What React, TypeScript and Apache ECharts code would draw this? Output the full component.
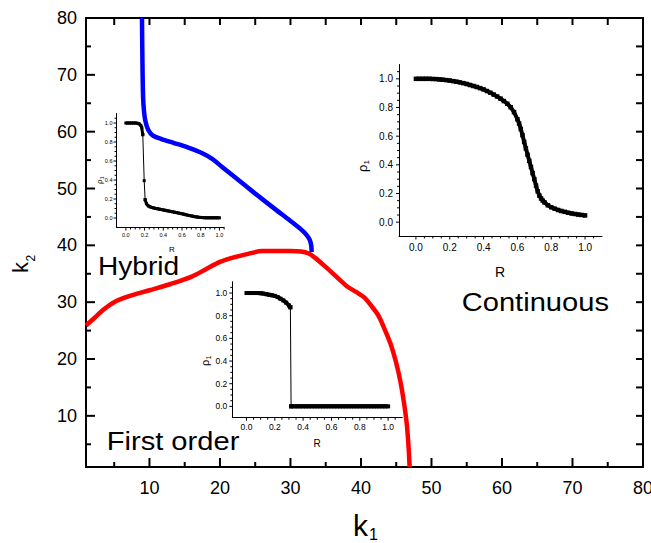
import React, { useEffect, useRef } from "react";
import * as echarts from "echarts";

// ---- main phase diagram ----
const blueK1 = [8.94, 8.98, 9.03, 9.1, 9.2, 9.4, 9.8, 10.5, 11.7, 13.5, 15.5, 17.5, 18.9, 20.3, 22, 25, 28, 30, 31.5, 32.3, 32.75, 32.95, 33.0];
const blueK2 = [80, 75, 70, 66, 64, 62, 60.4, 59.3, 58.7, 58.0, 57.2, 56.2, 55.2, 53.8, 52.1, 49.1, 46.2, 44.3, 42.8, 41.8, 40.9, 39.9, 38.8];

const redK1 = [1, 2, 3.5, 5, 7, 10, 13, 16, 18, 20, 22, 24, 26, 28, 30, 31.5, 32.5, 33.5, 35, 36.5, 38, 39.3, 40.5, 41.5, 42.5, 43.5, 44.3, 45, 45.6, 46.1, 46.5, 46.75, 46.9];
const redK2 = [25.9, 27.0, 28.7, 30.0, 31.0, 32.1, 33.2, 34.5, 35.8, 37.1, 37.9, 38.5, 39.0, 39.0, 39.0, 38.9, 38.6, 37.8, 36.2, 34.5, 32.8, 31.8, 30.8, 29.3, 27.6, 24.8, 22.3, 19.3, 16.0, 12.3, 8.5, 4.5, 1.0];

const kMin = 1;
const kMax = 80;
const mainLabels = [10, 20, 30, 40, 50, 60, 70, 80];
const mainTicks = [5, 10, 15, 20, 25, 30, 35, 40, 45, 50, 55, 60, 65, 70, 75, 80];

// ---- inset: hybrid ----
const hybridR = [0, 0.02, 0.04, 0.06, 0.08, 0.1, 0.12, 0.14, 0.16, 0.17, 0.181, 0.196, 0.206, 0.22, 0.24, 0.26, 0.28, 0.3, 0.32, 0.34, 0.36, 0.38, 0.4, 0.42, 0.44, 0.46, 0.48, 0.5, 0.52, 0.54, 0.56, 0.58, 0.6, 0.62, 0.64, 0.66, 0.68, 0.7, 0.72, 0.74, 0.76, 0.78, 0.8, 0.82, 0.84, 0.86, 0.88, 0.9, 0.92, 0.94, 0.96, 0.98, 1.0];
const hybridRho = [1.0, 1.0, 1.0, 1.0, 1.0, 1.0, 0.998, 0.992, 0.975, 0.95, 0.877, 0.393, 0.193, 0.15, 0.127, 0.117, 0.11, 0.105, 0.1, 0.097, 0.093, 0.089, 0.085, 0.081, 0.077, 0.073, 0.069, 0.065, 0.061, 0.057, 0.053, 0.049, 0.045, 0.04, 0.035, 0.03, 0.026, 0.022, 0.018, 0.014, 0.011, 0.008, 0.006, 0.004, 0.003, 0.002, 0.002, 0.002, 0.002, 0.002, 0.002, 0.002, 0.002];
const hybridJump = [10, 12];

// ---- inset: continuous ----
const contR = [0, 0.02, 0.04, 0.06, 0.08, 0.1, 0.12, 0.14, 0.16, 0.18, 0.2, 0.22, 0.24, 0.26, 0.28, 0.3, 0.32, 0.34, 0.36, 0.38, 0.4, 0.42, 0.44, 0.46, 0.48, 0.5, 0.52, 0.54, 0.56, 0.58, 0.6, 0.61, 0.62, 0.63, 0.64, 0.65, 0.66, 0.67, 0.68, 0.69, 0.7, 0.71, 0.72, 0.73, 0.74, 0.75, 0.76, 0.78, 0.8, 0.82, 0.84, 0.86, 0.88, 0.9, 0.92, 0.94, 0.96, 0.98, 1.0];
const contRho = [1.0, 1.0, 1.0, 1.0, 1.0, 0.999, 0.998, 0.996, 0.994, 0.991, 0.988, 0.984, 0.98, 0.975, 0.97, 0.964, 0.957, 0.95, 0.943, 0.935, 0.926, 0.915, 0.903, 0.89, 0.877, 0.862, 0.845, 0.826, 0.802, 0.768, 0.718, 0.688, 0.65, 0.607, 0.56, 0.515, 0.47, 0.428, 0.385, 0.342, 0.3, 0.255, 0.215, 0.185, 0.165, 0.15, 0.138, 0.118, 0.104, 0.094, 0.085, 0.078, 0.072, 0.066, 0.061, 0.057, 0.053, 0.05, 0.047];

// ---- inset: first order ----
const firstR = [0, 0.02, 0.04, 0.06, 0.08, 0.1, 0.12, 0.14, 0.16, 0.18, 0.2, 0.22, 0.24, 0.26, 0.28, 0.3, 0.31, 0.315, 0.34, 0.36, 0.38, 0.4, 0.42, 0.44, 0.46, 0.48, 0.5, 0.52, 0.54, 0.56, 0.58, 0.6, 0.62, 0.64, 0.66, 0.68, 0.7, 0.72, 0.74, 0.76, 0.78, 0.8, 0.82, 0.84, 0.86, 0.88, 0.9, 0.92, 0.94, 0.96, 0.98, 1.0];
const firstRho = [1.0, 1.0, 1.0, 1.0, 1.0, 0.998, 0.995, 0.99, 0.985, 0.98, 0.975, 0.965, 0.95, 0.935, 0.915, 0.89, 0.874, 0, 0, 0, 0, 0, 0, 0, 0, 0, 0, 0, 0, 0, 0, 0, 0, 0, 0, 0, 0, 0, 0, 0, 0, 0, 0, 0, 0, 0, 0, 0, 0, 0, 0, 0];
const firstJump = [16, 17];

const insetLabels = [0, 0.2, 0.4, 0.6, 0.8, 1.0];
const insetTicks = [0, 0.05, 0.1, 0.15, 0.2, 0.25, 0.3, 0.35, 0.4, 0.45, 0.5, 0.55, 0.6, 0.65, 0.7, 0.75, 0.8, 0.85, 0.9, 0.95, 1.0, 1.05];

const FONT = "'Liberation Sans', Arial, Helvetica, sans-serif";

const zip = (a: number[], b: number[]) => a.map((v, i) => [v, b[i]]);

function insetAxis(gridIndex: number, max: number, fontSize: number, margin: number) {
  return {
    type: "value",
    gridIndex,
    min: -0.1,
    max,
    axisLine: { show: true, onZero: false, lineStyle: { color: "#000", width: 1 } },
    axisTick: { show: false },
    axisLabel: {
      customValues: insetLabels,
      formatter: (v: number) => v.toFixed(1),
      fontSize,
      color: "#000",
      margin,
      fontFamily: FONT,
    },
    splitLine: { show: false },
  };
}

function curve(ax: number, pts: number[][], size: number, width: number) {
  return {
    type: "line",
    xAxisIndex: ax,
    yAxisIndex: ax,
    data: pts,
    symbol: "rect",
    symbolSize: size,
    showSymbol: true,
    itemStyle: { color: "#000" },
    lineStyle: { color: "#000", width },
    z: 5,
  };
}

function insetSeries(ax: number, r: number[], rho: number[], size: number, width: number, jump?: number[]) {
  const pts = zip(r, rho);
  if (!jump) return [curve(ax, pts, size, width)];
  return [
    curve(ax, pts.slice(0, jump[0] + 1), size, width),
    curve(ax, pts.slice(jump[0], jump[1] + 1), size, 1),
    curve(ax, pts.slice(jump[1]), size, width),
  ];
}

// outward tick marks of an inset, placed through the inset's own axes
function insetTickSeries(ax: number, xMax: number) {
  return {
    type: "custom",
    coordinateSystem: "cartesian2d",
    xAxisIndex: ax,
    yAxisIndex: ax,
    silent: true,
    clip: false,
    z: 4,
    data: insetTicks.map((v) => [v, v]),
    renderItem: (_p: any, api: any) => {
      const v = api.value(0);
      const major = Math.abs(v * 5 - Math.round(v * 5)) < 1e-6;
      const len = major ? 3 : 2;
      const children: any[] = [];
      if (v <= xMax + 1e-9) {
        const b = api.coord([v, -0.1]);
        children.push({ type: "line", shape: { x1: b[0], y1: b[1], x2: b[0], y2: b[1] + len }, style: { stroke: "#000", lineWidth: 1 } });
      }
      const l = api.coord([-0.1, v]);
      children.push({ type: "line", shape: { x1: l[0], y1: l[1], x2: l[0] - len, y2: l[1] }, style: { stroke: "#000", lineWidth: 1 } });
      return { type: "group", children };
    },
  };
}

function label(text: string, x: number, y: number, fontSize: number, opts: any = {}) {
  return {
    type: "text",
    x,
    y,
    z: 100,
    ...opts,
    style: {
      text,
      fontSize,
      fontFamily: FONT,
      fill: "#000",
      align: opts.align || "center",
      verticalAlign: "middle",
    },
  };
}

function subText(main: string, sub: string, x: number, y: number, fs: number, fsSub: number, dx: number, dy: number, rotate: boolean) {
  return {
    type: "group",
    x,
    y,
    rotation: rotate ? Math.PI / 2 : 0,
    z: 100,
    children: [
      {
        type: "text", x: 0, y: 0, z: 100,
        style: { text: main, fontSize: fs, fontFamily: FONT, fill: "#000", align: "left", verticalAlign: "middle" },
      },
      {
        type: "text", x: dx, y: dy, z: 100,
        style: { text: sub, fontSize: fsSub, fontFamily: FONT, fill: "#000", align: "left", verticalAlign: "middle" },
      },
    ],
  };
}

export default function App() {
  const ref = useRef<HTMLDivElement>(null);
  useEffect(() => {
    if (!ref.current) return;
    const chart = echarts.init(ref.current, undefined, { renderer: "svg" });

    const g = (left: number, top: number, width: number, height: number) => ({
      left, top, width, height, containLabel: false, outerBoundsMode: "none",
    });
    const frameAxis = (extra: any) => ({
      type: "value", min: kMin, max: kMax,
      axisLine: { show: true, onZero: false, lineStyle: { color: "#000", width: 2 } },
      axisTick: { show: false },
      axisLabel: { show: false },
      splitLine: { show: false },
      ...extra,
    });

    const option: any = {
      animation: false,
      backgroundColor: "#fff",
      grid: [
        g(86, 18, 557, 449),
        g(116.5, 113.5, 107.6, 114),
        g(399, 64.5, 203, 172),
        g(232.3, 281.7, 170, 136),
      ],
      xAxis: [
        frameAxis({
          gridIndex: 0, position: "bottom",
          axisLabel: { show: true, customValues: mainLabels, fontSize: 18, color: "#000", margin: 12, fontFamily: FONT },
        }),
        frameAxis({ gridIndex: 0, position: "top" }),
        insetAxis(1, 1.05, 5.5, 4),
        insetAxis(2, 1.1, 10, 6),
        insetAxis(3, 1.1, 8.5, 5),
      ],
      yAxis: [
        frameAxis({
          gridIndex: 0, position: "left",
          axisLabel: { show: true, customValues: mainLabels, fontSize: 18, color: "#000", margin: 9, fontFamily: FONT },
        }),
        frameAxis({ gridIndex: 0, position: "right" }),
        insetAxis(1, 1.1, 5.5, 4),
        insetAxis(2, 1.1, 10, 6),
        insetAxis(3, 1.1, 8.5, 5),
      ],
      series: [
        // inward tick marks of the main frame, placed through the main axes
        {
          type: "custom",
          coordinateSystem: "cartesian2d",
          xAxisIndex: 0,
          yAxisIndex: 0,
          silent: true,
          clip: false,
          z: 4,
          data: mainTicks.map((v) => [v, v]),
          renderItem: (_p: any, api: any) => {
            const v = api.value(0);
            const major = v % 10 === 0;
            const lb = major ? 9 : 5;
            const lt = 7;
            const b = api.coord([v, kMin]);
            const t = api.coord([v, kMax]);
            const l = api.coord([kMin, v]);
            const r = api.coord([kMax, v]);
            const st = { stroke: "#000", lineWidth: 2 };
            return {
              type: "group",
              children: [
                { type: "line", shape: { x1: b[0], y1: b[1], x2: b[0], y2: b[1] - lb }, style: st },
                { type: "line", shape: { x1: t[0], y1: t[1], x2: t[0], y2: t[1] + lt }, style: st },
                { type: "line", shape: { x1: l[0], y1: l[1], x2: l[0] + lb, y2: l[1] }, style: st },
                { type: "line", shape: { x1: r[0], y1: r[1], x2: r[0] - lt, y2: r[1] }, style: st },
              ],
            };
          },
        },
        {
          type: "line", xAxisIndex: 0, yAxisIndex: 0, data: zip(blueK1, blueK2),
          symbol: "none", smooth: 0.3, lineStyle: { color: "#0000ff", width: 4.5 }, z: 3,
        },
        {
          type: "line", xAxisIndex: 0, yAxisIndex: 0, data: zip(redK1, redK2),
          symbol: "none", smooth: 0.3, lineStyle: { color: "#ff0000", width: 4.5 }, z: 3,
        },
        insetTickSeries(2, 1.05),
        insetTickSeries(3, 1.1),
        insetTickSeries(4, 1.1),
        ...insetSeries(2, hybridR, hybridRho, 3, 3, hybridJump),
        ...insetSeries(3, contR, contRho, 4.5, 4),
        ...insetSeries(4, firstR, firstRho, 4, 4, firstJump),
      ],
      graphic: [
        label("Hybrid", 98, 266, 26, { align: "left", scaleX: 1.08 }),
        label("First order", 106.7, 441, 26, { align: "left", scaleX: 1.12 }),
        label("Continuous", 461.7, 302.5, 26, { align: "left", scaleX: 1.12 }),
        subText("k", "1", 353, 525, 30, 16, 16, 9.5, false),
        subText("k", "2", 20.1, 273, 22, 12, 11.5, 11, true),
        label("R", 172, 249, 8),
        label("R", 500, 272, 14),
        label("R", 317, 443, 10),
        subText("ρ", "1", 99, 184, 8, 5, 4.8, 2.8, true),
        subText("ρ", "1", 362, 172, 13, 8, 7.6, 4.5, true),
        subText("ρ", "1", 205, 366, 11, 7, 6.5, 3.8, true),
      ],
    };
    chart.setOption(option);
    return () => chart.dispose();
  }, []);
  return (
    <div
      ref={ref}
      style={{ position: "fixed", left: 0, top: 0, width: 651, height: 543, background: "#fff" }}
    />
  );
}
